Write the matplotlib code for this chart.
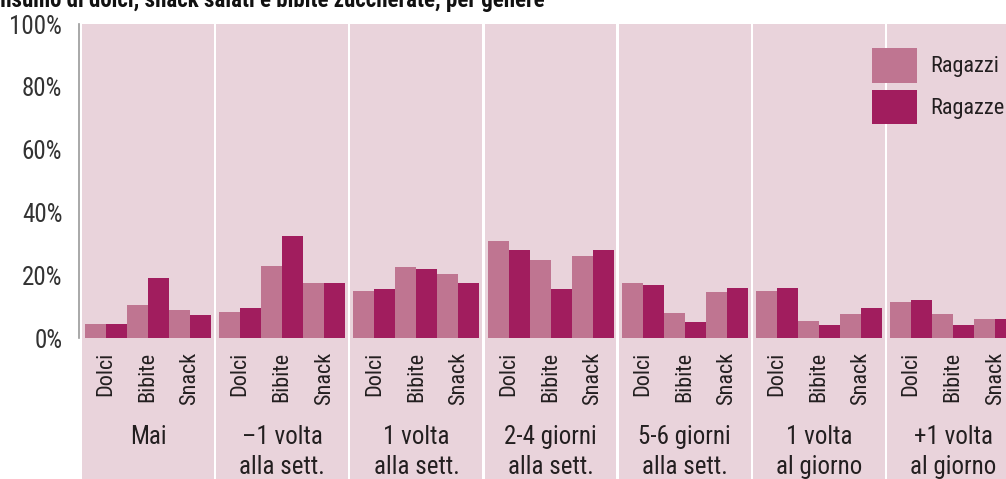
import matplotlib
matplotlib.use("Agg")
import matplotlib.pyplot as plt
from matplotlib.patches import Patch
from matplotlib import font_manager

# ---------------- data ----------------
title = "Consumo di dolci, snack salati e bibite zuccherate, per genere"
groups = ["Mai", "–1 volta\nalla sett.", "1 volta\nalla sett.", "2-4 giorni\nalla sett.",
          "5-6 giorni\nalla sett.", "1 volta\nal giorno", "+1 volta\nal giorno"]
foods = ["Dolci", "Bibite", "Snack"]
series_names = ["Ragazzi", "Ragazze"]
ragazzi = [[4.5, 10.5, 9.0], [8.4, 23.0, 17.4], [15.0, 22.5, 20.5], [31.0, 25.0, 26.0],
           [17.5, 8.0, 14.5], [15.0, 5.4, 7.5], [11.4, 7.5, 6.0]]
ragazze = [[4.5, 19.0, 7.4], [9.5, 32.5, 17.4], [15.5, 22.0, 17.5], [28.0, 15.5, 28.0],
           [17.0, 5.0, 16.0], [16.0, 4.0, 9.5], [12.0, 4.0, 6.0]]
yticks = [0, 20, 40, 60, 80, 100]

# ---------------- style ----------------
c_boys = "#BF7591"
c_girls = "#A11D5E"
c_bg = "#E9D3DB"
c_text = "#231F20"

avail = {f.name for f in font_manager.fontManager.ttflist}
prefs = ["Liberation Sans Narrow", "Roboto Condensed", "Archivo Narrow", "PT Sans Narrow",
         "IBM Plex Sans Condensed", "Fira Sans Condensed", "Open Sans Condensed",
         "Barlow Condensed", "Roboto", "DejaVu Sans"]
fam = [f for f in prefs if f in avail][:1] + ["DejaVu Sans"]
plt.rcParams["font.family"] = fam

FS_CAT = 16
FS_GRP = 18
FS_TICK = 18
FS_LEG = 16

W, H = 1006, 479
fig = plt.figure(figsize=(W / 100, H / 100), dpi=100)
fig.patch.set_facecolor("white")

# axes: left at px 79, top at px 24, bottom at figure bottom
ax = fig.add_axes([79 / W, 0, (W - 79) / W, (H - 24) / H])
ax.set_facecolor("white")
px_per_unit_y = (338 - 24) / 100.0
ax.set_ylim(-(H - 338) / px_per_unit_y, 100)

bar_px = 21.0
pitch = 134.2 / bar_px
ax.set_xlim(-6 / bar_px, (W - 85) / bar_px)

for g, gname in enumerate(groups):
    x0 = g * pitch
    ax.axvspan(x0 - 3 / bar_px, x0 + 6 + 2.7 / bar_px, ymin=0, ymax=1,
               color=c_bg, zorder=0, lw=0)
    for c, food in enumerate(foods):
        xb = x0 + 2 * c
        ax.bar(xb + 0.5, ragazzi[g][c], width=1.0, color=c_boys, zorder=2, lw=0)
        ax.bar(xb + 1.5, ragazze[g][c], width=1.0, color=c_girls, zorder=2, lw=0)
        ax.annotate(food, xy=(xb + 1, 0), xycoords="data", xytext=(0, -14),
                    textcoords="offset pixels", rotation=90, ha="center", va="top",
                    fontsize=FS_CAT, color=c_text)
    for li, line in enumerate(gname.split("\n")):
        ax.annotate(line, xy=(x0 + 3, 0), xycoords="data", xytext=(0, -99 - 30 * li),
                    textcoords="offset pixels", ha="center", va="center",
                    fontsize=FS_GRP, color=c_text)

for s in ["top", "right", "bottom"]:
    ax.spines[s].set_visible(False)
ax.spines["left"].set_bounds(0, 100)
ax.spines["left"].set_color("#9a9a9a")
ax.spines["left"].set_linewidth(1.2)
ax.set_xticks([])
ax.set_yticks(yticks)
ax.set_yticklabels([f"{v}%" for v in yticks])
ax.tick_params(axis="y", length=0, pad=12, labelsize=FS_TICK, labelcolor="#333333")

handles = [Patch(facecolor=c_boys, edgecolor="none"), Patch(facecolor=c_girls, edgecolor="none")]
fs = FS_LEG * 100 / 72
leg = ax.legend(handles, series_names, loc="upper left",
                bbox_to_anchor=(872 / W, 1 - 48 / H), bbox_transform=fig.transFigure,
                frameon=False, fontsize=FS_LEG, borderpad=0, borderaxespad=0,
                handlelength=45 / fs, handleheight=45 / fs, handletextpad=13 / fs,
                labelspacing=7 / fs)
for t in leg.get_texts():
    t.set_color(c_text)

fig.text(545 / W, 1 - 7 / H, title, ha="right", va="baseline",
         fontsize=16.5, fontweight="bold", color="#111111")

fig.savefig("out.png", dpi=100)
